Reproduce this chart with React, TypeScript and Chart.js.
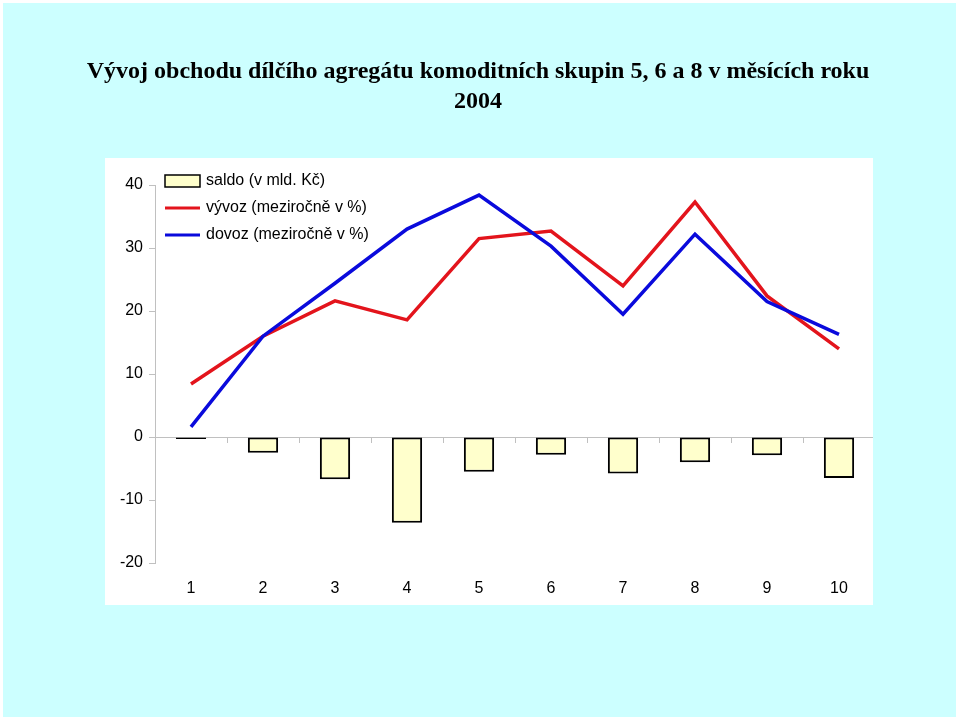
import React, { useEffect, useRef } from "react";
import { Chart, registerables } from "chart.js";

Chart.register(...registerables);

const categories = ["1", "2", "3", "4", "5", "6", "7", "8", "9", "10"];
const saldo = [-0.3, -2.5, -6.7, -13.6, -5.5, -2.8, -5.8, -4.0, -2.9, -6.5];
const vyvoz = [8.4, 16.0, 21.6, 18.6, 31.5, 32.7, 24.0, 37.3, 22.4, 14.0];
const dovoz = [1.6, 16.0, 24.4, 33.0, 38.4, 30.3, 19.5, 32.2, 21.5, 16.3];
const titleLines = [
  "Vývoj obchodu dílčího agregátu komoditních skupin 5, 6 a 8 v měsících roku",
  "2004",
];
const legendLabels = ["saldo (v mld. Kč)", "vývoz (meziročně v %)", "dovoz (meziročně v %)"];
const yMin = -20;
const yMax = 40;

const RED = "#E3141C";
const BLUE = "#0A0ADC";
const BAR_FILL = "#FFFFCC";
const AXIS_GRAY = "#C0C0C0";
const SANS = 'Arial, "Liberation Sans", sans-serif';

const decorPlugin = {
  id: "decor",
  beforeDraw(chart: any) {
    const ctx = chart.ctx;
    ctx.save();
    ctx.fillStyle = "#FFFFFF";
    ctx.fillRect(0, 0, chart.width, chart.height);
    ctx.fillStyle = "#CCFFFF";
    ctx.fillRect(3, 3, 953, 714);
    ctx.fillStyle = "#FFFFFF";
    ctx.fillRect(105, 158, 768, 447);
    // title
    ctx.fillStyle = "#000000";
    ctx.font = 'bold 24px "Liberation Serif", "Times New Roman", serif';
    ctx.textAlign = "center";
    ctx.textBaseline = "alphabetic";
    ctx.fillText(titleLines[0], 478, 78);
    ctx.fillText(titleLines[1], 478, 108);
    ctx.restore();
  },
  beforeDatasetsDraw(chart: any) {
    const ctx = chart.ctx;
    const x = chart.scales.x;
    const y = chart.scales.y;
    const y0 = y.getPixelForValue(0);
    ctx.save();
    ctx.strokeStyle = AXIS_GRAY;
    ctx.lineWidth = 1;
    ctx.beginPath();
    ctx.moveTo(chart.chartArea.left, y0 + 0.5);
    ctx.lineTo(873, y0 + 0.5);
    for (let i = 0; i < categories.length - 1; i++) {
      const bx = Math.round((x.getPixelForValue(i) + x.getPixelForValue(i + 1)) / 2) + 0.5;
      ctx.moveTo(bx, y0);
      ctx.lineTo(bx, y0 + 6);
    }
    ctx.stroke();
    ctx.restore();
  },
  afterDraw(chart: any) {
    const ctx = chart.ctx;
    ctx.save();
    const lx = 165;
    const rows = [181, 208, 235];
    ctx.fillStyle = BAR_FILL;
    ctx.strokeStyle = "#000000";
    ctx.lineWidth = 1.5;
    ctx.fillRect(lx, rows[0] - 6, 35, 12);
    ctx.strokeRect(lx, rows[0] - 6, 35, 12);
    ctx.lineWidth = 3;
    ctx.strokeStyle = RED;
    ctx.beginPath();
    ctx.moveTo(lx, rows[1]);
    ctx.lineTo(lx + 35, rows[1]);
    ctx.stroke();
    ctx.strokeStyle = BLUE;
    ctx.beginPath();
    ctx.moveTo(lx, rows[2]);
    ctx.lineTo(lx + 35, rows[2]);
    ctx.stroke();
    ctx.fillStyle = "#000000";
    ctx.font = "16px " + SANS;
    ctx.textAlign = "left";
    ctx.textBaseline = "middle";
    legendLabels.forEach((t, i) => ctx.fillText(t, lx + 41, rows[i]));
    ctx.restore();
  },
};

export default function App() {
  const ref = useRef<HTMLCanvasElement>(null);
  useEffect(() => {
    if (!ref.current) return;
    const chart = new Chart(ref.current, {
      type: "bar",
      data: {
        labels: categories,
        datasets: [
          {
            type: "bar",
            label: legendLabels[0],
            data: saldo,
            backgroundColor: BAR_FILL,
            borderColor: "#000000",
            borderWidth: 2,
            borderSkipped: false,
            barPercentage: 0.42,
            categoryPercentage: 1,
            order: 3,
          },
          {
            type: "line",
            label: legendLabels[1],
            data: vyvoz,
            borderColor: RED,
            borderWidth: 3.5,
            pointRadius: 0,
            tension: 0,
            order: 2,
          },
          {
            type: "line",
            label: legendLabels[2],
            data: dovoz,
            borderColor: BLUE,
            borderWidth: 3.5,
            pointRadius: 0,
            tension: 0,
            order: 1,
          },
        ] as any,
      },
      plugins: [decorPlugin],
      options: {
        responsive: false,
        animation: false,
        devicePixelRatio: 1,
        layout: { padding: { left: 105, right: 85, top: 185, bottom: 115 } },
        plugins: {
          legend: { display: false },
          title: { display: false },
          tooltip: { enabled: false },
        },
        scales: {
          x: {
            grid: { display: false, drawTicks: false },
            border: { display: false },
            ticks: { color: "#000000", font: { family: SANS, size: 16 }, padding: 16, maxRotation: 0 },
            afterFit: (s: any) => {
              s.height = 42;
            },
          },
          y: {
            min: yMin,
            max: yMax,
            ticks: { stepSize: 10, color: "#000000", font: { family: SANS, size: 16 }, padding: 6 },
            grid: {
              drawOnChartArea: false,
              tickColor: AXIS_GRAY,
              tickLength: 6,
            },
            border: { display: true, color: AXIS_GRAY, width: 1 },
            afterFit: (s: any) => {
              s.width = 50;
            },
          },
        },
      } as any,
    });
    return () => chart.destroy();
  }, []);
  return (
    <div style={{ position: "absolute", left: 0, top: 0, width: 960, height: 720 }}>
      <canvas ref={ref} width={960} height={720} />
    </div>
  );
}
